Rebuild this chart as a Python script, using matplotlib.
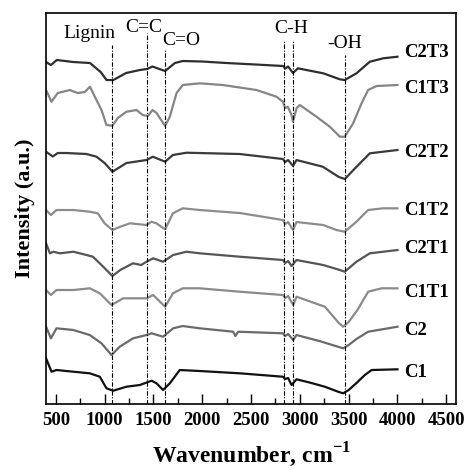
import matplotlib
matplotlib.use("Agg")
import matplotlib.pyplot as plt
from matplotlib.ticker import MultipleLocator

plt.rcParams['font.family'] = ['Liberation Serif', 'DejaVu Serif']
plt.rcParams['mathtext.fontset'] = 'custom'
plt.rcParams['mathtext.rm'] = 'Liberation Serif:bold'
plt.rcParams['mathtext.bf'] = 'Liberation Serif:bold'

# FTIR spectra (stacked, arbitrary units)
wn_c1 = [400, 456, 507, 680, 848, 951, 1019, 1088, 1224, 1361, 1481, 1532, 1599, 1668, 1770,
         1975, 2385, 2826, 2850, 2880, 2915, 2966, 3100, 3256, 3400, 3444, 3500, 3580, 3666, 3735, 4000]
int_c1 = [111.7, 98.3, 100, 98.3, 96.7, 93.3, 81.7, 79.3, 83.3, 85, 89.3, 86.7, 80, 86.7, 100,
          99, 96.7, 93.3, 91, 92, 85, 90.7, 87.5, 83.3, 78, 76.7, 80, 87, 95, 100, 100.7]

wn_c2 = [400, 450, 507, 680, 848, 968, 1071, 1155, 1292, 1430, 1481, 1599, 1702, 1800, 1975,
         2317, 2340, 2368, 2826, 2850, 2880, 2932, 2966, 3200, 3400, 3444, 3500, 3580, 3700, 4000]
int_c2 = [143.3, 131.7, 141.7, 140, 135, 126.7, 115, 123.3, 131.7, 135, 136.7, 133.3, 141.7, 144, 141.7,
          138.3, 134, 138.3, 136.7, 134, 136, 130, 135, 129, 123, 121.7, 125, 131, 138.3, 143.3]

wn_c1t1 = [400, 450, 507, 680, 848, 951, 1071, 1190, 1430, 1497, 1620, 1700, 1800, 1975, 2385,
           2826, 2850, 2880, 2932, 2966, 3256, 3400, 3444, 3500, 3590, 3700, 3837, 4000]
int_c1t1 = [180, 175, 180, 180, 181.7, 176.7, 165, 171.7, 171.7, 175, 163.3, 176.7, 181.7, 181.7, 178.3,
            175, 172, 174, 165, 173.3, 163.3, 147, 143.3, 148, 160, 178.3, 181.7, 181.7]

wn_c2t1 = [400, 440, 475, 541, 680, 815, 880, 968, 1080, 1160, 1290, 1375, 1430, 1497, 1599,
           1702, 1839, 1975, 2385, 2826, 2850, 2880, 2915, 2966, 3240, 3410, 3460, 3580, 3717, 3853, 4000]
int_c2t1 = [226.7, 216.7, 218.3, 216.7, 218.3, 215, 213.3, 205, 194, 200, 206.7, 205, 208.3, 211.7, 208.3,
            215, 218.3, 216.7, 213.3, 210, 207, 209, 204, 210, 205, 200, 198.3, 208.3, 216.7, 218.3, 220]

wn_c1t2 = [400, 450, 507, 680, 848, 930, 1000, 1080, 1160, 1260, 1430, 1480, 1530, 1620, 1700,
           1800, 1975, 2385, 2826, 2850, 2880, 2930, 2966, 3240, 3375, 3460, 3580, 3700, 3853, 4000]
int_c1t2 = [260, 255, 260, 260, 258.3, 256.7, 246.7, 240, 243.3, 246.7, 245, 248.3, 246.7, 240.7, 256.7,
            261.7, 260, 257, 250, 246, 248, 240, 248, 245, 240, 238.3, 248.3, 260, 261.7, 261.7]

wn_c2t2 = [400, 469, 520, 610, 815, 917, 1000, 1080, 1224, 1429, 1494, 1620, 1699, 1839, 2385,
           2826, 2850, 2880, 2930, 2966, 3235, 3400, 3461, 3581, 3717, 3853, 4000]
int_c2t2 = [318.3, 313.5, 317, 317, 316, 313.3, 307, 298.3, 307, 310, 313.3, 308.3, 315, 317.3, 316,
            311, 308, 310, 304, 310, 303.3, 293, 291, 303.3, 316.7, 318.3, 320]

wn_c1t3 = [400, 456, 520, 643, 725, 797, 850, 900, 968, 1019, 1080, 1135, 1224, 1327, 1391, 1443,
           1491, 1532, 1620, 1668, 1737, 1801, 1975, 2211, 2556, 2761, 2826, 2850, 2877, 2915,
           2930, 2966, 3000, 3171, 3307, 3410, 3460, 3546, 3632, 3700, 3785, 4000]
int_c1t3 = [380, 368.3, 377, 380, 377, 378, 383.3, 373.3, 360, 345, 344.3, 352, 358.3, 360, 355, 354,
            360, 357, 344, 353.3, 377, 385, 386.7, 385, 380, 373.3, 368.3, 362, 363.3, 355,
            348.3, 361.7, 365, 353.3, 343.3, 333.3, 333.3, 346.7, 366.7, 380, 384, 385]

wn_c2t3 = [400, 450, 510, 680, 850, 960, 1020, 1090, 1220, 1360, 1435, 1490, 1620, 1720, 1800,
           2000, 2250, 2550, 2830, 2850, 2880, 2930, 2980, 3240, 3410, 3460, 3580, 3717, 3853, 4000]
int_c2t3 = [408, 405, 410, 408, 407, 398, 390, 390, 397, 400, 401, 403.5, 399, 407, 409,
            408.5, 407, 405.5, 404, 401.5, 403.5, 397, 401.7, 396.7, 390.7, 390, 396.7, 408.3, 411.7, 413.3]

curve_names = ['C1', 'C2', 'C1T1', 'C2T1', 'C1T2', 'C2T2', 'C1T3', 'C2T3']
curve_wn = [wn_c1, wn_c2, wn_c1t1, wn_c2t1, wn_c1t2, wn_c2t2, wn_c1t3, wn_c2t3]
curve_int = [int_c1, int_c2, int_c1t1, int_c2t1, int_c1t2, int_c2t2, int_c1t3, int_c2t3]
curve_colors = ['#111111', '#6a6a6a', '#8a8a8a', '#555555', '#8c8c8c', '#3a3a3a', '#858585', '#2e2e2e']
# baseline of each curve name
label_y = [93.3, 135, 173.3, 216.7, 255, 313.3, 377.3, 413.3]

# assigned bands: position, marker line top (axes fraction)
band_wn = [1080, 1435, 1620, 2840, 2930, 3460]
band_top = [0.918, 0.949, 0.905, 0.931, 0.931, 0.893]
band_names = ['Lignin', 'C=C', 'C=O', 'C-H', '-OH']
band_name_x = [840, 1406, 1784, 2913, 3458]
band_name_y = [432, 438, 425, 437, 421.7]

fig = plt.figure(figsize=(4.65, 4.70), dpi=100)
ax = fig.add_axes([0.099, 0.1404, 0.8817, 0.8319])

for wn, inten, col in zip(curve_wn, curve_int, curve_colors):
    ax.plot(wn, inten, color=col, lw=1.6, solid_joinstyle='round')

for name, y in zip(curve_names, label_y):
    ax.text(4070, y, name, fontsize=13.5, fontweight='bold', va='baseline', ha='left')

for x, top in zip(band_wn, band_top):
    ax.axvline(x, ymin=0, ymax=top, color='black', lw=0.8, linestyle=(0, (4, 1.5, 1, 1.5)))

for name, x, y in zip(band_names, band_name_x, band_name_y):
    ax.text(x, y, name, fontsize=14, ha='center', va='baseline')

ax.set_xlim(400, 4600)
ax.set_ylim(66, 457)
ax.xaxis.set_major_locator(MultipleLocator(500))
ax.xaxis.set_minor_locator(MultipleLocator(250))
ax.set_yticks([])
ax.tick_params(axis='x', which='major', direction='in', length=7, width=1, labelsize=13.5, pad=6)
ax.tick_params(axis='x', which='minor', direction='in', length=4, width=1)
for lab in ax.get_xticklabels():
    lab.set_fontweight('bold')
for sp in ax.spines.values():
    sp.set_linewidth(1.2)

ax.set_ylabel('Intensity (a.u.)', fontsize=16, fontweight='bold', labelpad=8)
ax.set_xlabel('Wavenumber, cm$^{-1}$', fontsize=17, fontweight='bold', labelpad=8)

fig.savefig('out.png', dpi=100)
